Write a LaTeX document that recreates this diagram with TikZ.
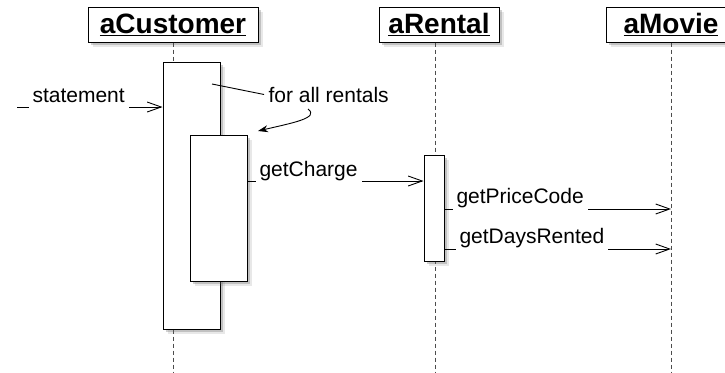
\documentclass[tikz,border=0pt]{standalone}
\usepackage{fontspec}
\setmainfont{Liberation Sans}
\usetikzlibrary{arrows.meta,shadows}

\tikzset{every picture/.style={line width=1pt}}
\tikzset{
  softshadow/.style={
    drop shadow={shadow xshift=5pt, shadow yshift=-5pt, fill=black!60, opacity=0.15},
    drop shadow={shadow xshift=3pt, shadow yshift=-3pt, fill=black!60, opacity=0.3}},
  objbox/.style={draw, fill=white, minimum height=35pt, inner sep=0pt,
    font=\fontsize{28}{32}\selectfont\bfseries, softshadow},
  actbox/.style={draw, fill=white, inner sep=0pt, softshadow},
  lifeline/.style={draw=black!70, line width=0.9pt, dash pattern=on 4pt off 3pt},
  msg/.style={line width=0.9pt, -{Straight Barb[length=14pt,width=10pt]}},
  msglabel/.style={fill=white, inner xsep=4pt, inner ysep=1pt, text depth=7pt,
    anchor=base west, font=\fontsize{21}{25}\selectfont},
}

\begin{document}
\begin{tikzpicture}[x=1pt,y=1pt,yscale=-1,xscale=1]
\useasboundingbox (0,0) rectangle (725,372);

%Shape: Object boxes
\node[objbox, minimum width=170pt] (cust) at (173,24.5) {\underline{aCustomer}};
\node[objbox, minimum width=120pt] (rental) at (439,24.5) {\underline{aRental}};
\node[objbox, minimum width=130pt] (movie) at (671,24.5) {\underline{aMovie}};

%Straight Lines: lifelines
\coordinate (custEnd) at (173,372);
\coordinate (rentEnd) at (435,372);
\coordinate (movEnd) at (671,372);
\draw[lifeline] (cust.south) -- (custEnd);
\draw[lifeline] (rental.south -| rentEnd) -- (rentEnd);
\draw[lifeline] (movie.south) -- (movEnd);

%Shape: Activation bars
\node[actbox, minimum width=57pt, minimum height=267pt] (act1) at (191.5,195.5) {};
\node[actbox, minimum width=57pt, minimum height=146pt] (act2) at (218.5,208) {};
\node[actbox, minimum width=20pt, minimum height=106pt] (act3) at (434,208) {};

%Straight Lines: messages
\coordinate (stStart) at (17,107);
\coordinate (chg) at (0,181);
\coordinate (prc) at (0,209);
\coordinate (days) at (0,249);
\draw[msg] (stStart) -- (stStart -| act1.west);
\draw[msg] (act2.east |- chg) -- (act3.west |- chg);
\draw[msg] (act3.east |- prc) -- (movEnd |- prc);
\draw[msg] (act3.east |- days) -- (movEnd |- days);

% Text Node
\node[msglabel] (lblState) at (28,102) {statement};
% Text Node
\node[msglabel] (lblCharge) at (255,176) {getCharge};
% Text Node
\node[msglabel] (lblPrice) at (452,203) {getPriceCode};
% Text Node
\node[msglabel] (lblDays) at (455,243) {getDaysRented};

%Note: for all rentals
\node[anchor=base west, inner sep=4pt, font=\fontsize{21}{25}\selectfont] (noteTxt) at (264,102) {for all rentals};
\coordinate (noteTip) at (212,84);
\coordinate (loopStart) at (308,109);
\coordinate (loopEnd) at (258,131);
\draw[line width=0.9pt] (noteTxt.west) -- (noteTip);
\draw[line width=0.9pt, -{Stealth[length=10pt,width=7pt]}] (loopStart) .. controls (320,118) and (292,123) .. (loopEnd);

\end{tikzpicture}
\end{document}
